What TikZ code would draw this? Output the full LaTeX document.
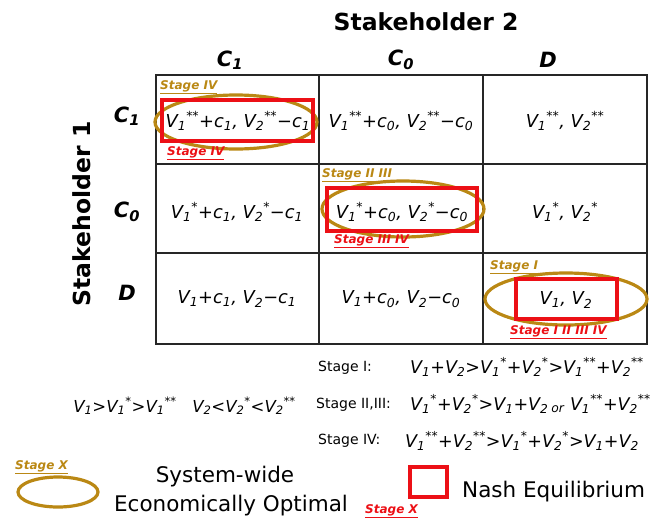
\documentclass[tikz,border=0pt]{standalone}
\usepackage{fontspec}
\setmainfont{DejaVu Sans}
\definecolor{gold}{RGB}{186,136,20}
\definecolor{nashred}{RGB}{236,16,22}
\newcommand{\Vs}[2]{V\textsubscript{#1}\textsuperscript{#2}}
\newcommand{\cs}[1]{c\textsubscript{#1}}
\tikzset{
  grid/.style={line width=2pt, draw=black!85},
  hdr/.style={font=\fontsize{21}{24}\selectfont\bfseries\itshape, inner sep=0pt},
  title/.style={font=\fontsize{23.5}{27}\selectfont\bfseries, inner sep=0pt},
  cell/.style={font=\fontsize{17.8}{22}\selectfont\itshape, inner sep=0pt},
  opt/.style={draw=gold, line width=3.2pt},
  nash/.style={draw=nashred, line width=3.2pt},
  goldlab/.style={text=gold, font=\fontsize{12}{14}\selectfont\bfseries\itshape, inner sep=0pt, anchor=west},
  redlab/.style={text=nashred, font=\fontsize{12}{14}\selectfont\bfseries\itshape, inner sep=0pt, anchor=west},
  stg/.style={font=\fontsize{14}{16}\selectfont, inner sep=0pt, anchor=west},
  frm/.style={font=\fontsize{17.5}{20}\selectfont\itshape, inner sep=0pt, anchor=west},
  ord/.style={font=\fontsize{16.5}{20}\selectfont\itshape, inner sep=0pt},
  leg/.style={font=\fontsize{21.5}{25}\selectfont, inner sep=0pt}
}
\begin{document}
\begin{tikzpicture}[x=1pt,y=-1pt]
\useasboundingbox (0,0) rectangle (652,520);
% grid
\draw[grid] (156,75) rectangle (647,344);
\draw[grid] (319,75) -- (319,344);
\draw[grid] (483,75) -- (483,344);
\draw[grid] (156,164) -- (647,164);
\draw[grid] (156,253) -- (647,253);
% titles
\node[title] (s2) at (426,22) {Stakeholder 2};
\node[title, rotate=90] (s1) at (82,214) {Stakeholder 1};
\node[hdr] (hc1) at (230,60) {C\textsubscript{1}};
\node[hdr] (hc0) at (401,60) {C\textsubscript{0}};
\node[hdr] (hd) at (548,60) {D};
\node[hdr] (rc1) at (127,116) {C\textsubscript{1}};
\node[hdr] (rc0) at (127,212) {C\textsubscript{0}};
\node[hdr] (rd) at (127,293) {D};
% overlays
\draw[opt] (236,122) ellipse [x radius=81, y radius=27];
\draw[nash] (162,100) rectangle (313,141);
\draw[opt] (403,209) ellipse [x radius=81, y radius=28];
\draw[nash] (327,188) rectangle (477,231);
\draw[opt] (566,299) ellipse [x radius=81, y radius=26];
\draw[nash] (516,279) rectangle (617,319);
% cells
\node[cell] (a11) at (238,121) {\Vs{1}{**}+\cs{1}, \Vs{2}{**}−\cs{1}};
\node[cell] (a12) at (401,121) {\Vs{1}{**}+\cs{0}, \Vs{2}{**}−\cs{0}};
\node[cell] (a13) at (565,121) {\Vs{1}{**}, \Vs{2}{**}};
\node[cell] (a21) at (237,212) {\Vs{1}{*}+\cs{1}, \Vs{2}{*}−\cs{1}};
\node[cell] (a22) at (402,212) {\Vs{1}{*}+\cs{0}, \Vs{2}{*}−\cs{0}};
\node[cell] (a23) at (565,212) {\Vs{1}{*}, \Vs{2}{*}};
\node[cell] (a31) at (237,299) {V\textsubscript{1}+\cs{1}, V\textsubscript{2}−\cs{1}};
\node[cell] (a32) at (401,299) {V\textsubscript{1}+\cs{0}, V\textsubscript{2}−\cs{0}};
\node[cell] (a33) at (566,300) {V\textsubscript{1}, V\textsubscript{2}};
% stage labels
\node[goldlab] (g11) at (160,87) {\underline{Stage IV}};
\node[redlab] (r11) at (167,153) {\underline{Stage IV}};
\node[goldlab] (g22) at (322,175) {\underline{Stage II III}};
\node[redlab] (r22) at (334,241) {\underline{Stage III IV}};
\node[goldlab] (g33) at (490,267) {\underline{Stage I}};
\node[redlab] (r33) at (510,332) {\underline{Stage I II III IV}};
% conditions
\node[stg] (st1) at (318,368) {Stage I:};
\node[frm] (f1) at (410,367) {V\textsubscript{1}+V\textsubscript{2}>\Vs{1}{*}+\Vs{2}{*}>\Vs{1}{**}+\Vs{2}{**}};
\node[stg] (st2) at (316,405) {Stage II,III:};
\node[frm] (f2) at (410,404) {\Vs{1}{*}+\Vs{2}{*}>V\textsubscript{1}+V\textsubscript{2}\,\textsubscript{or} \Vs{1}{**}+\Vs{2}{**}};
\node[stg] (st3) at (318,441) {Stage IV:};
\node[frm] (f3) at (405,441) {\Vs{1}{**}+\Vs{2}{**}>\Vs{1}{*}+\Vs{2}{*}>V\textsubscript{1}+V\textsubscript{2}};
\node[ord] (o1) at (125,406) {V\textsubscript{1}>\Vs{1}{*}>\Vs{1}{**}};
\node[ord] (o2) at (244,406) {V\textsubscript{2}<\Vs{2}{*}<\Vs{2}{**}};
% legend
\node[goldlab] (gx) at (15,467) {\underline{Stage X}};
\draw[opt] (58,492) ellipse [x radius=40, y radius=15];
\node[leg] (lopt1) at (225,477) {System-wide};
\node[leg] (lopt2) at (231,506) {Economically Optimal};
\draw[nash] (410,467) rectangle (447,497);
\node[redlab] (rx) at (365,511) {\underline{Stage X}};
\node[leg, anchor=west] (lnash) at (462,492) {Nash Equilibrium};
\end{tikzpicture}
\end{document}
